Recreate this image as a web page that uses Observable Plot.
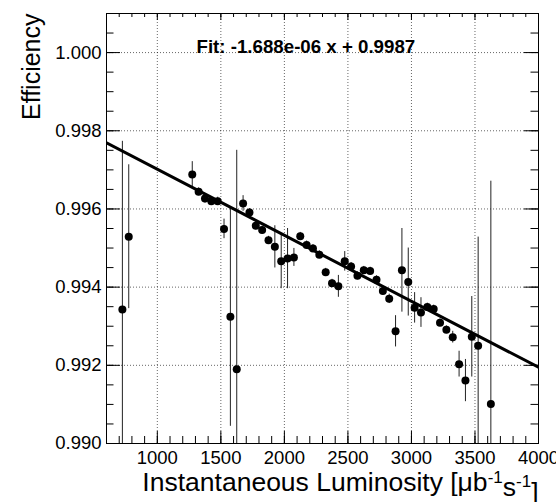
<!DOCTYPE html>
<html><head><meta charset="utf-8">
<script src="https://cdn.jsdelivr.net/npm/d3@7"></script>
<script src="https://cdn.jsdelivr.net/npm/@observablehq/plot@0.6"></script>
<style>body{margin:0;background:#fff} svg{display:block}</style>
</head><body><div id="chart"></div>
<script>
// Bin centres (instantaneous luminosity, μb^-1 s^-1)
const lumi = [725, 775, 1275, 1325, 1375, 1425, 1475, 1525, 1575, 1625, 1675, 1725, 1775, 1825, 1875, 1925, 1975, 2025, 2075, 2125,
  2175, 2225, 2275, 2325, 2375, 2425, 2475, 2525, 2575, 2625, 2675, 2725, 2775, 2825, 2875, 2925, 2975, 3025, 3075, 3125,
  3175, 3225, 3275, 3325, 3375, 3425, 3475, 3525, 3625];
const efficiency = [0.99343, 0.99529, 0.99688, 0.99644, 0.99627, 0.99620, 0.99620, 0.99549, 0.99324, 0.99190, 0.99614, 0.99591, 0.99557, 0.99546, 0.99520, 0.99503, 0.99466, 0.99473, 0.99476, 0.99530,
  0.99508, 0.99499, 0.99483, 0.99438, 0.99410, 0.99402, 0.99466, 0.99453, 0.99429, 0.99443, 0.99441, 0.99419, 0.99390, 0.99370, 0.99287, 0.99443, 0.99413, 0.99347, 0.99335, 0.99349,
  0.99344, 0.99309, 0.99291, 0.99272, 0.99203, 0.99161, 0.99273, 0.99250, 0.99101];
const effError = [0.0043, 0.00184, 0.00033, 0.0001, 0.00012, 0.0001, 0.0001, 0.00025, 0.0028, 0.0056, 0.0002, 0.0001, 0.0001, 0.0001, 0.0001, 0.00054, 0.0007, 0.00077, 0.00023, 0.0001,
  0.0001, 0.0001, 0.0001, 0.0001, 0.0001, 0.00028, 0.00025, 0.0001, 0.0001, 0.0001, 0.0001, 0.0001, 0.0001, 0.00012, 0.0004, 0.00107, 0.00087, 0.00039, 0.00038, 0.0001,
  0.0001, 0.0001, 0.0001, 0.00015, 0.00033, 0.00054, 0.00103, 0.00278, 0.0057];

// Linear fit line (end points across the frame)
const fitX = [600, 4000];
const fitY = [0.99769, 0.99195];
const fitLabel = "Fit: -1.688e-06 x + 0.9987";

const xMajorTicks = [1000, 1500, 2000, 2500, 3000, 3500, 4000];
const xTickLabels = ["1000", "1500", "2000", "2500", "3000", "3500", "4000"];
const xGridLines = [1000, 1500, 2000, 2500, 3000, 3500];
const xMinorTicks = d3.range(700, 4000, 100);
const yMajorTicks = [0.990, 0.992, 0.994, 0.996, 0.998, 1.000];
const yTickLabels = ["0.990", "0.992", "0.994", "0.996", "0.998", "1.000"];
const yGridLines = [0.992, 0.994, 0.996, 0.998, 1.000];
const yMinorTicks = d3.range(0, 22).map(i => 0.990 + i * 0.0005);
const xTitle = "Instantaneous Luminosity [μb-1s-1]";
const yTitle = "Efficiency";

const points = lumi.map((x, i) => ({x, y: efficiency[i], e: effError[i]}));
const fit = fitX.map((x, i) => ({x, y: fitY[i]}));

const W = 556, H = 502, mt = 13, mr = 18, mb = 59, ml = 106;
const fw = W - ml - mr, fh = H - mt - mb;
const font = "'Liberation Sans', Arial, Helvetica, sans-serif";
const grid = {stroke: "#000", strokeOpacity: 0.6, strokeDasharray: "1,2", strokeWidth: 1};

const chart = Plot.plot({
  width: W, height: H,
  marginTop: mt, marginRight: mr, marginBottom: mb, marginLeft: ml,
  style: {fontFamily: font, fontSize: "18.5px", background: "#fff", color: "#000", overflow: "visible"},
  x: {domain: [600, 4000], axis: null},
  y: {domain: [0.990, 1.001], axis: null},
  marks: [
    Plot.ruleX(xGridLines, {x: d => d, ...grid}),
    Plot.ruleY(yGridLines, {y: d => d, ...grid}),
    // ticks, inside the frame (ROOT style)
    Plot.ruleX(xMajorTicks, {x: d => d, insetTop: fh - 12, stroke: "#000"}),
    Plot.ruleX(xMinorTicks, {x: d => d, insetTop: fh - 7, stroke: "#000"}),
    Plot.ruleX(xMajorTicks, {x: d => d, insetBottom: fh - 7, stroke: "#000"}),
    Plot.ruleX(xMinorTicks, {x: d => d, insetBottom: fh - 4, stroke: "#000"}),
    Plot.ruleY(yMajorTicks, {y: d => d, insetRight: fw - 14, stroke: "#000"}),
    Plot.ruleY(yMinorTicks, {y: d => d, insetRight: fw - 7.5, stroke: "#000"}),
    Plot.ruleY(yMajorTicks, {y: d => d, insetLeft: fw - 14, stroke: "#000"}),
    Plot.ruleY(yMinorTicks, {y: d => d, insetLeft: fw - 7.5, stroke: "#000"}),
    // error bars
    Plot.ruleX(points, {x: "x", y1: d => d.y - d.e, y2: d => d.y + d.e, stroke: "#222", strokeWidth: 1, clip: true}),
    // fit
    Plot.line(fit, {x: "x", y: "y", stroke: "#000", strokeWidth: 3, clip: true}),
    // points
    Plot.dot(points, {x: "x", y: "y", r: 4, fill: "#000", stroke: "none"}),
    Plot.frame({stroke: "#000", strokeWidth: 1}),
    // tick labels
    Plot.text(xMajorTicks, {x: d => d, text: (d, i) => xTickLabels[i], frameAnchor: "bottom", dy: 7, lineAnchor: "top", fontSize: 18.5, fill: "#000"}),
    Plot.text(yMajorTicks, {y: d => d, text: (d, i) => yTickLabels[i], frameAnchor: "left", dx: -5, textAnchor: "end", fontSize: 18.5, fill: "#000"}),
    // titles
    Plot.text([xTitle], {text: d => d, frameAnchor: "bottom-right", dy: 47.5, textAnchor: "end", lineAnchor: "bottom", fontSize: 26.5, fill: "#000"}),
    Plot.text([yTitle], {text: d => d, frameAnchor: "top-left", dx: -67, rotate: -90, textAnchor: "end", lineAnchor: "bottom", fontSize: 25, fill: "#000"}),
    Plot.text([fitLabel], {text: d => d, frameAnchor: "top-left", dx: 90, dy: 39, textAnchor: "start", lineAnchor: "bottom", fontSize: 18.7, fontWeight: "bold", fill: "#000"})
  ]
});

// superscripts in the x title
d3.select(chart).selectAll("text").each(function() {
  if (this.textContent === xTitle) {
    const t = d3.select(this);
    t.text(null);
    t.append("tspan").text("Instantaneous Luminosity [μb");
    t.append("tspan").attr("dy", "-0.5em").attr("font-size", "17px").text("-1");
    t.append("tspan").attr("dy", "0.5em").text("s");
    t.append("tspan").attr("dy", "-0.5em").attr("font-size", "17px").text("-1");
    t.append("tspan").attr("dy", "0.5em").text("]");
  }
});
document.getElementById("chart").appendChild(chart);
</script>
</body></html>
